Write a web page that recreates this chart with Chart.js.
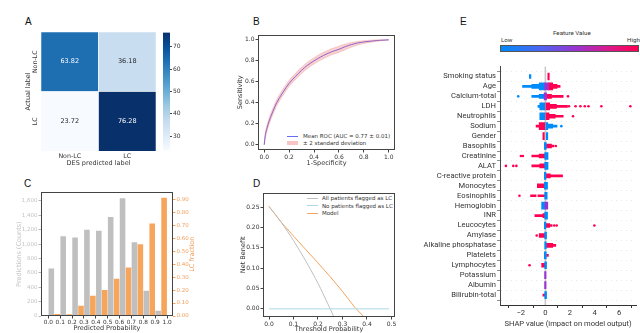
<!DOCTYPE html>
<html lang="en">
<head>
<meta charset="UTF-8">
<title>DES model evaluation figure</title>
<script src="https://cdn.jsdelivr.net/npm/chart.js@4"></script>
<style>
  body { margin: 0; width: 640px; height: 333px; position: relative; background: #fff; overflow: hidden; font-family: 'DejaVu Sans', sans-serif; color: #222; }
  canvas { position: absolute; }
  .panel { position: absolute; font-family: 'Liberation Sans', Arial, sans-serif; font-size: 10px; line-height: 10px; color: #111; }
  .leg { position: absolute; font-size: 5.5px; line-height: 6px; color: #333; white-space: nowrap; }
  .sw { position: absolute; }
  .narrow { position: absolute; font-family: Roboto, 'Liberation Sans', sans-serif; font-size: 6.2px; line-height: 7px; color: #333; white-space: nowrap; }
</style>
</head>
<body>
<div class="panel" style="left:25px;top:17px">A</div>
<div class="panel" style="left:253px;top:17px">B</div>
<div class="panel" style="left:24px;top:179px">C</div>
<div class="panel" style="left:253px;top:179px">D</div>
<div class="panel" style="left:460px;top:17px">E</div>

<!-- legend B -->
<div class="sw" style="left:287px;top:135.5px;width:11px;height:1px;background:#6a6af0"></div>
<div class="leg" style="left:303px;top:133px">Mean ROC (AUC = 0.77 ± 0.01)</div>
<div class="sw" style="left:287px;top:141px;width:11px;height:4px;background:rgba(235,110,110,0.4)"></div>
<div class="leg" style="left:303px;top:140px">± 2 standard deviation</div>

<!-- legend D -->
<div class="sw" style="left:307px;top:197.5px;width:11px;height:1px;background:#bdbdbd"></div>
<div class="leg" style="left:322px;top:195px">All patients flagged as LC</div>
<div class="sw" style="left:307px;top:205px;width:11px;height:1px;background:#add8e6"></div>
<div class="leg" style="left:322px;top:202.5px">No patients flagged as LC</div>
<div class="sw" style="left:307px;top:212.5px;width:11px;height:1px;background:#f4a460"></div>
<div class="leg" style="left:322px;top:210px">Model</div>

<!-- feature value colour bar for E -->
<div class="narrow" style="left:553px;top:30px">Feature Value</div>
<div class="narrow" style="left:501px;top:37px">Low</div>
<div class="narrow" style="left:627px;top:37px">High</div>
<div class="sw" style="left:500px;top:45px;width:137px;height:5px;border:1px solid #555;background:linear-gradient(to right,#008bfb,#4f63f0 30%,#9a33cf 55%,#d81a8e 78%,#ff0052)"></div>

<script>
// ---- A: confusion matrix (%)
const actualLabels = ['Non-LC', 'LC'];
const predLabels = ['Non-LC', 'LC'];
const cmValues = [[63.82, 36.18], [23.72, 76.28]];
const cbTicks = [30, 40, 50, 60, 70];

// ---- B: ROC
const rocFpr = [0, 0.01, 0.03, 0.05, 0.1, 0.15, 0.2, 0.25, 0.3, 0.35, 0.4, 0.45, 0.5, 0.55, 0.6, 0.65, 0.7, 0.75, 0.8, 0.85, 0.9, 0.95, 1.0];
const rocTpr = [0, 0.1, 0.19, 0.26, 0.4, 0.5, 0.585, 0.65, 0.71, 0.76, 0.8, 0.835, 0.865, 0.89, 0.91, 0.935, 0.955, 0.97, 0.98, 0.987, 0.993, 0.997, 1.0];
const rocUpper = [0, 0.13, 0.22, 0.29, 0.43, 0.53, 0.615, 0.68, 0.74, 0.79, 0.83, 0.865, 0.895, 0.92, 0.94, 0.96, 0.975, 0.985, 0.992, 0.997, 1, 1, 1];
const rocLower = [0, 0.07, 0.16, 0.23, 0.37, 0.47, 0.555, 0.62, 0.68, 0.73, 0.77, 0.805, 0.835, 0.86, 0.88, 0.905, 0.93, 0.95, 0.965, 0.975, 0.985, 0.992, 1];
const unitTicks = [0, 0.2, 0.4, 0.6, 0.8, 1.0];

// ---- C: calibration histogram
const binStarts = [0, 0.1, 0.2, 0.3, 0.4, 0.5, 0.6, 0.7, 0.8, 0.9];
const binCounts = [660, 1110, 1090, 1200, 1185, 1378, 1637, 1026, 351, 74];
const lcFraction = [0.015, 0.013, 0.08, 0.157, 0.2, 0.288, 0.375, 0.555, 0.715, 0.913];
const probTicks = [0, 0.1, 0.2, 0.3, 0.4, 0.5, 0.6, 0.7, 0.8, 0.9, 1.0];
const countTicks = [0, 200, 400, 600, 800, 1000, 1200, 1400, 1600];
const fracTicks = [0, 0.1, 0.2, 0.3, 0.4, 0.5, 0.6, 0.7, 0.8, 0.9];

// ---- D: decision curve
const allThresh = [0, 0.05, 0.1, 0.15, 0.2, 0.25, 0.265];
const allBenefit = [0.252, 0.213, 0.168, 0.118, 0.063, 0.0, -0.02];
const modelThresh = [0, 0.05, 0.1, 0.15, 0.2, 0.25, 0.3, 0.35, 0.388];
const modelBenefit = [0.252, 0.213, 0.179, 0.146, 0.113, 0.079, 0.043, 0.004, -0.02];
const noneThresh = [0, 0.49];
const noneBenefit = [0, 0];
const threshTicks = [0, 0.1, 0.2, 0.3, 0.4, 0.5];
const benefitTicks = [0, 0.05, 0.1, 0.15, 0.2, 0.25];

// ---- E: SHAP summary (rows top to bottom); swarms as [row, from, to]
const shapFeatures = ['Smoking status', 'Age', 'Calcium-total', 'LDH', 'Neutrophils', 'Sodium', 'Gender', 'Basophils',
  'Creatinine', 'ALAT', 'C-reactive protein', 'Monocytes', 'Eosinophils', 'Hemoglobin', 'INR', 'Leucocytes', 'Amylase',
  'Alkaline phosphatase', 'Platelets', 'Lymphocytes', 'Potassium', 'Albumin', 'Bilirubin-total'];
const shapTicks = [-2, 0, 2, 4, 6];
const lowThick = [[1, -0.5, -0.05], [3, -0.45, 0], [4, -0.45, 0], [5, 0, 0.2], [6, 0.08, 0.2], [7, -0.08, 0.08], [8, -0.05, 0.22],
  [9, -0.05, 0.22], [10, -0.08, 0.05], [11, -0.08, 0.18], [12, -0.05, 0.15], [13, -0.3, -0.02], [14, -0.05, 0.18], [15, -0.08, 0.05],
  [16, -0.05, 0.1], [17, -0.05, 0.08], [18, -0.08, 0.08], [19, -0.05, 0.1], [22, -0.05, 0.1]];
const lowMid = [[0, -1.3, -1.17], [1, -1.1, -0.5], [2, -0.5, -0.05], [5, 0.2, 0.6]];
const lowThin = [[1, -1.85, -1.1], [2, -1.1, -0.5], [3, -0.6, -0.45], [5, 0.6, 0.95]];
const highThick = [[0, 0.2, 0.32], [1, 0.25, 0.6], [3, 0, 0.35], [4, 0, 0.3], [5, -0.5, 0], [6, -0.2, -0.08]];
const highMid = [[1, 0.6, 0.95], [2, 0.1, 0.5], [3, 0.35, 0.9], [4, 0.3, 0.8], [7, 0.08, 0.5], [8, -0.5, -0.05], [9, -0.45, -0.05],
  [10, 0.05, 0.4], [11, -0.65, -0.08], [14, -0.2, -0.05], [15, 0.05, 0.35], [16, -0.5, -0.05], [17, 0.08, 0.6], [19, -0.3, -0.05]];
const highThin = [[1, 0.95, 1.2], [2, 0.5, 1.45], [3, 0.9, 1.8], [4, 0.8, 1.45], [5, -0.75, -0.5], [7, 0.5, 0.7], [8, -1.1, -0.5],
  [9, -1.1, -0.45], [10, 0.4, 1.4], [12, -1.2, -0.75], [12, -0.6, -0.05], [14, -0.85, -0.2], [15, 0.35, 0.55], [17, 0.6, 0.85],
  [18, 0.1, 0.25], [22, -0.2, -0.05]];
const midThick = [[1, -0.05, 0.25], [2, -0.1, 0.1], [13, -0.02, 0.2], [20, -0.06, 0.06], [21, -0.06, 0.06]];
const lowDots = [[2, -2.2], [5, 1.3]];
const highDots = [[2, 1.84], [3, 1.92], [3, 2.45], [3, 2.85], [3, 3.2], [3, 3.5], [3, 4.55], [3, 6.9], [4, 2.25], [7, 0.85],
  [8, -1.98], [8, -1.82], [9, -3.2], [9, -2.6], [9, -2.35], [12, -2.1], [15, 0.72], [15, 0.92], [15, 3.98], [16, -0.7], [19, -1.28]];

Chart.defaults.font.family = "'DejaVu Sans', sans-serif";
Chart.defaults.font.size = 6;
Chart.defaults.color = '#333';
Chart.defaults.animation = false;
Chart.defaults.responsive = false;
Chart.defaults.plugins.legend.display = false;
Chart.defaults.plugins.tooltip.enabled = false;

// place a canvas so its chart area lands on area
function makeCanvas(area, leftW, bottomH, rightW) {
  const c = document.createElement('canvas');
  c.width = leftW + (area.r - area.l) + rightW;
  c.height = 4 + (area.b - area.t) + bottomH;
  c.style.left = (area.l - leftW) + 'px';
  c.style.top = (area.t - 4) + 'px';
  document.body.appendChild(c);
  return c;
}
const fix = n => s => { if (s.isHorizontal()) s.height = n; else s.width = n; };
const setTicks = list => s => { s.ticks = list.map(v => ({ value: v })); };
const mplGrid = { display: true, drawOnChartArea: false, drawTicks: true, tickLength: 2.5, tickColor: '#444', color: '#444' };

const framePlugin = {
  id: 'frame',
  afterDatasetsDraw(chart) {
    const { ctx, chartArea: a } = chart;
    ctx.save();
    ctx.strokeStyle = '#444';
    ctx.lineWidth = 1;
    ctx.strokeRect(Math.round(a.left) + 0.5, Math.round(a.top) + 0.5, Math.round(a.right - a.left) - 1, Math.round(a.bottom - a.top) - 1);
    ctx.restore();
  }
};

// rotated label reading bottom-to-top, like matplotlib's ylabel
function sideTitle(text, color, x) {
  return {
    id: 'sideTitle',
    afterDraw(chart) {
      const { ctx, chartArea: a } = chart;
      ctx.save();
      ctx.translate(x < 0 ? chart.width + x : x, (a.top + a.bottom) / 2);
      ctx.rotate(-Math.PI / 2);
      ctx.fillStyle = color;
      ctx.font = "6.5px 'DejaVu Sans'";
      ctx.textAlign = 'center';
      ctx.textBaseline = 'middle';
      ctx.fillText(text, 0, 0);
      ctx.restore();
    }
  };
}

// matplotlib Blues
const bluesStops = ['#f7fbff', '#deebf7', '#c6dbef', '#9ecae1', '#6baed6', '#4292c6', '#2171b5', '#08519c', '#08306b'];
function hexRgb(h) { return [1, 3, 5].map(i => parseInt(h.slice(i, i + 2), 16)); }
function blues(t) {
  t = Math.max(0, Math.min(1, t));
  const p = t * 8, i = Math.min(7, Math.floor(p)), f = p - i;
  const a = hexRgb(bluesStops[i]), b = hexRgb(bluesStops[i + 1]);
  return 'rgb(' + a.map((v, k) => Math.round(v + (b[k] - v) * f)).join(',') + ')';
}
const cmFlat = cmValues.flat();
const cmMin = Math.min(...cmFlat), cmMax = Math.max(...cmFlat);

// ---------- A: heatmap
const cellText = {
  id: 'cellText',
  afterDatasetsDraw(chart) {
    const { ctx, chartArea: a, scales } = chart;
    chart.data.datasets.forEach((ds, di) => {
      chart.getDatasetMeta(di).data.forEach((bar, j) => {
        const v = cmValues[ds.row][j];
        ctx.save();
        ctx.fillStyle = v > 50 ? '#fff' : '#262626';
        ctx.font = "6.5px 'DejaVu Sans'";
        ctx.textAlign = 'center';
        ctx.textBaseline = 'middle';
        ctx.fillText(v.toFixed(2), bar.x, (bar.y + bar.base) / 2);
        ctx.restore();
      });
    });
    // tick labels: columns below, rows rotated on the left
    ctx.save();
    ctx.fillStyle = '#333';
    ctx.font = "6.3px 'DejaVu Sans'";
    ctx.textAlign = 'center';
    ctx.textBaseline = 'middle';
    predLabels.forEach((lab, j) => ctx.fillText(lab, scales.x.getPixelForValue(j), a.bottom + 5));
    actualLabels.forEach((lab, r) => {
      ctx.save();
      ctx.translate(a.left - 6, scales.y.getPixelForValue(actualLabels.length - r - 0.5));
      ctx.rotate(-Math.PI / 2);
      ctx.fillText(lab, 0, 0);
      ctx.restore();
    });
    ctx.restore();
  }
};
const areaA = { l: 41, t: 32, r: 156, b: 151 };
new Chart(makeCanvas(areaA, 17, 16, 2), {
  type: 'bar',
  data: {
    labels: predLabels,
    datasets: [1, 0].map(r => ({
      row: r,
      label: actualLabels[r],
      data: predLabels.map(() => 1),
      backgroundColor: cmValues[r].map(v => blues((v - cmMin) / (cmMax - cmMin))),
      borderColor: '#fff',
      borderWidth: 0.6,
      barPercentage: 1,
      categoryPercentage: 1
    }))
  },
  options: {
    layout: { padding: { top: 4, right: 2 } },
    scales: {
      x: {
        stacked: true, grid: { display: false }, border: { display: false },
        ticks: { display: false },
        title: { display: true, text: 'DES predicted label', padding: 0, font: { size: 6.5 } },
        afterFit: fix(16)
      },
      y: {
        stacked: true, min: 0, max: 2, grid: { display: false }, border: { display: false },
        ticks: { display: false },
        title: { display: true, text: 'Actual label', padding: 0, font: { size: 6.5 } },
        afterFit: fix(17)
      }
    }
  },
  plugins: [cellText]
});

// colour bar for A
const areaCb = { l: 163, t: 32, r: 170, b: 151 };
new Chart(makeCanvas(areaCb, 0, 4, 16), {
  type: 'bar',
  data: {
    labels: [''],
    datasets: [{
      data: [[cmMin, cmMax]],
      barPercentage: 1, categoryPercentage: 1,
      backgroundColor: c => {
        const a = c.chart.chartArea;
        if (!a) return '#9ecae1';
        const g = c.chart.ctx.createLinearGradient(0, a.bottom, 0, a.top);
        bluesStops.forEach((col, i) => g.addColorStop(i / 8, col));
        return g;
      }
    }]
  },
  options: {
    layout: { padding: { top: 4, bottom: 4 } },
    scales: {
      x: { display: false },
      y: {
        position: 'right', min: cmMin, max: cmMax,
        afterBuildTicks: setTicks(cbTicks),
        grid: { ...mplGrid, tickLength: 2 }, border: { display: false },
        ticks: { padding: 1, font: { size: 6 } },
        afterFit: fix(16)
      }
    }
  }
});

// ---------- B: ROC
const areaB = { l: 258, t: 34, r: 395, b: 150 };
new Chart(makeCanvas(areaB, 22, 17, 4), {
  type: 'line',
  data: {
    datasets: [
      { data: rocFpr.map((x, i) => ({ x, y: rocUpper[i] })), borderWidth: 0.6, borderColor: 'rgba(230,90,90,0.35)', backgroundColor: 'rgba(235,110,110,0.32)', fill: '+1', pointRadius: 0, tension: 0.3 },
      { data: rocFpr.map((x, i) => ({ x, y: rocLower[i] })), borderWidth: 0.6, borderColor: 'rgba(230,90,90,0.35)', pointRadius: 0, fill: false, tension: 0.3 },
      { data: rocFpr.map((x, i) => ({ x, y: rocTpr[i] })), borderWidth: 1, borderColor: 'rgba(60,60,240,0.8)', pointRadius: 0, fill: false, tension: 0.3 }
    ]
  },
  options: {
    layout: { padding: { top: 4, right: 4 } },
    scales: {
      x: {
        type: 'linear', min: -0.05, max: 1.05, offset: false, afterBuildTicks: setTicks(unitTicks),
        grid: mplGrid, border: { display: false },
        ticks: { padding: 1, maxRotation: 0, callback: v => v.toFixed(1) },
        title: { display: true, text: '1-Specificity', padding: 0, font: { size: 6.5 } },
        afterFit: fix(17)
      },
      y: {
        type: 'linear', min: -0.05, max: 1.05, afterBuildTicks: setTicks(unitTicks),
        grid: mplGrid, border: { display: false },
        ticks: { padding: 1, callback: v => v.toFixed(1) },
        title: { display: true, text: 'Sensitivity', padding: 0, font: { size: 6.5 } },
        afterFit: fix(22)
      }
    }
  },
  plugins: [framePlugin]
});

// ---------- C: predicted probability histogram + LC fraction
const areaC = { l: 41, t: 192, r: 173, b: 316 };
const binWidth = 0.1;
new Chart(makeCanvas(areaC, 26, 16, 23), {
  type: 'bar',
  data: {
    datasets: [
      { data: binStarts.map((b, i) => ({ x: b + binWidth / 4, y: binCounts[i] })), backgroundColor: '#bfbfbf', grouped: false, barPercentage: 1, categoryPercentage: 0.94, yAxisID: 'y' },
      { data: binStarts.map((b, i) => ({ x: b + binWidth * 3 / 4, y: lcFraction[i] })), backgroundColor: '#f5a55c', grouped: false, barPercentage: 1, categoryPercentage: 0.94, yAxisID: 'y1' }
    ]
  },
  options: {
    layout: { padding: { top: 4 } },
    scales: {
      x: {
        type: 'linear', min: -0.062, max: 1.05, offset: false, afterBuildTicks: setTicks(probTicks),
        grid: { ...mplGrid, offset: false }, border: { display: false },
        ticks: { padding: 1, maxRotation: 0, autoSkip: false, font: { size: 5.8 }, callback: v => v.toFixed(1) },
        title: { display: true, text: 'Predicted Probability', padding: 0, font: { size: 6.5 } },
        afterFit: fix(16)
      },
      y: {
        min: 0, max: 1720, afterBuildTicks: setTicks(countTicks),
        grid: { ...mplGrid, tickColor: '#bbb' }, border: { display: false },
        ticks: { padding: 1, color: '#c4c4c4', font: { size: 5.5 } },
        title: { display: true, text: 'Predictions (Counts)', color: '#c4c4c4', padding: 0, font: { size: 6.5 } },
        afterFit: fix(26)
      },
      y1: {
        position: 'right', min: 0, max: 0.956, afterBuildTicks: setTicks(fracTicks),
        grid: { ...mplGrid, tickColor: '#f5a55c' }, border: { display: false },
        ticks: { padding: 1, color: '#f0a060', font: { size: 5.5 }, callback: v => v.toFixed(2) },
        afterFit: fix(23)
      }
    }
  },
  plugins: [framePlugin, sideTitle('LC fraction', '#f0a060', -4)]
});

// ---------- D: decision curve
const areaD = { l: 263, t: 192, r: 395, b: 317 };
const xy = (xs, ys) => xs.map((x, i) => ({ x, y: ys[i] }));
new Chart(makeCanvas(areaD, 24, 16, 4), {
  type: 'line',
  data: {
    datasets: [
      { data: xy(noneThresh, noneBenefit), borderColor: '#add8e6', borderWidth: 1, pointRadius: 0 },
      { data: xy(allThresh, allBenefit), borderColor: '#bdbdbd', borderWidth: 1, pointRadius: 0, tension: 0.2 },
      { data: xy(modelThresh, modelBenefit), borderColor: '#f4a460', borderWidth: 1, pointRadius: 0 }
    ]
  },
  options: {
    layout: { padding: { top: 4, right: 4 } },
    scales: {
      x: {
        type: 'linear', min: -0.0245, max: 0.5145, afterBuildTicks: setTicks(threshTicks),
        grid: mplGrid, border: { display: false },
        ticks: { padding: 1, maxRotation: 0, callback: v => v.toFixed(1) },
        title: { display: true, text: 'Threshold Probability', padding: 0, font: { size: 6.5 } },
        afterFit: fix(16)
      },
      y: {
        type: 'linear', min: -0.02, max: 0.286, afterBuildTicks: setTicks(benefitTicks),
        grid: mplGrid, border: { display: false },
        ticks: { padding: 1, callback: v => v.toFixed(2) },
        title: { display: true, text: 'Net Benefit', padding: 0, font: { size: 6.5 } },
        afterFit: fix(24)
      }
    }
  },
  plugins: [framePlugin]
});

// ---------- E: SHAP beeswarm summary
const BLUE = '#008bfb', PINK = '#ff0052', PURPLE = '#9a33cf';
const swarm = (rows, color, thick, order) => ({
  type: 'bar', indexAxis: 'y', grouped: false, order,
  data: rows.map(([r, a, b]) => ({ y: r, x: [a, b] })),
  backgroundColor: color, borderWidth: 0, barThickness: thick
});
const dots = (rows, color) => ({
  type: 'scatter', order: 0,
  data: rows.map(([r, x]) => ({ x, y: r })),
  backgroundColor: color, borderWidth: 0, pointRadius: 1.3
});
const zeroLine = {
  id: 'zeroLine',
  beforeDatasetsDraw(chart) {
    const { ctx, chartArea: a, scales } = chart;
    const x = scales.x.getPixelForValue(0);
    ctx.save();
    ctx.strokeStyle = '#c8c8c8';
    ctx.lineWidth = 1.5;
    ctx.beginPath();
    ctx.moveTo(x, a.top);
    ctx.lineTo(x, a.bottom);
    ctx.stroke();
    ctx.restore();
  }
};
const areaE = { l: 500, t: 65, r: 638, b: 305 };
const shapFont = "Roboto, 'Liberation Sans', sans-serif";
new Chart(makeCanvas(areaE, 100, 24, 2), {
  type: 'bar',
  data: {
    datasets: [
      dots(highDots, PINK), dots(lowDots, BLUE),
      swarm(midThick, PURPLE, 7, 1),
      swarm(lowThick, BLUE, 7, 1), swarm(highThick, PINK, 7, 1),
      swarm(lowMid, BLUE, 4, 2), swarm(highMid, PINK, 4, 2),
      swarm(lowThin, BLUE, 2, 3), swarm(highThin, PINK, 2, 3)
    ]
  },
  options: {
    layout: { padding: { top: 4, right: 2 } },
    scales: {
      x: {
        type: 'linear', min: -3.68, max: 7.36, offset: false, afterBuildTicks: setTicks(shapTicks),
        grid: { display: true, drawOnChartArea: false, tickLength: 3, tickColor: '#333', color: '#333' },
        border: { display: true, color: '#333', width: 1 },
        ticks: { padding: 1, maxRotation: 0, font: { family: shapFont, size: 7.6 }, callback: v => v < 0 ? '\u2212' + Math.abs(v) : String(v) },
        title: { display: true, text: 'SHAP value (impact on model output)', padding: 0, font: { family: shapFont, size: 7.6 } },
        afterFit: fix(24)
      },
      y: {
        type: 'linear', min: -1, max: shapFeatures.length, reverse: true, offset: false,
        afterBuildTicks: setTicks(shapFeatures.map((_, i) => i)),
        grid: { display: true, drawOnChartArea: true, color: '#d9d9d9', lineWidth: 0.6, tickColor: '#444', tickLength: 3 },
        border: { display: true, color: '#444', width: 1, dash: [1, 4] },
        ticks: { padding: 1, autoSkip: false, color: '#333', font: { family: shapFont, size: 7.6 }, callback: v => shapFeatures[v] },
        afterFit: fix(100)
      }
    }
  },
  plugins: [zeroLine]
});
</script>
</body>
</html>
